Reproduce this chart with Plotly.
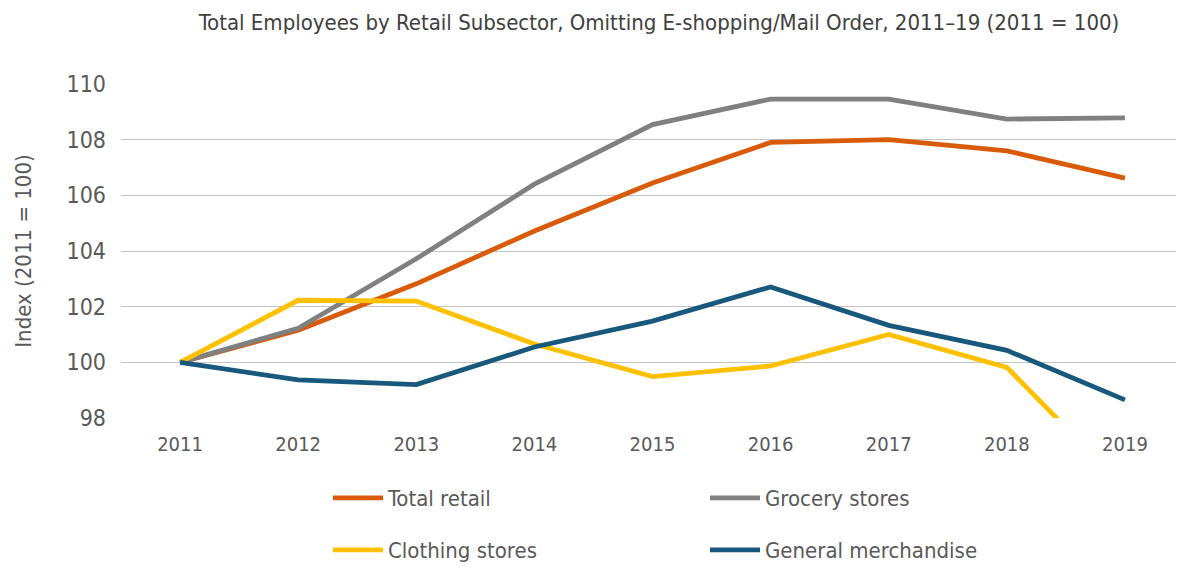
import plotly.graph_objects as go

years = ["2011", "2012", "2013", "2014", "2015", "2016", "2017", "2018", "2019"]
total_retail = [100, 101.15, 102.82, 104.72, 106.44, 107.9, 108.0, 107.6, 106.62]
grocery = [100, 101.22, 103.72, 106.4, 108.54, 109.46, 109.46, 108.74, 108.78]
clothing = [100, 102.23, 102.2, 100.66, 99.49, 99.87, 101.0, 99.82, 95.5]
general = [100, 99.37, 99.2, 100.55, 101.48, 102.71, 101.33, 100.43, 98.65]

series = [
    ("Total retail", total_retail, "#D95B0A", "legend"),
    ("Grocery stores", grocery, "#808080", "legend2"),
    ("Clothing stores", clothing, "#FFC000", "legend3"),
    ("General merchandise", general, "#17587C", "legend4"),
]

FONT = "DejaVu Sans Condensed, Liberation Sans Narrow, sans-serif"
TXT = "#595959"

# The page body has an 8px margin, so the figure is drawn 8px in from the corner.
OFF = 8
W, H = 1184 - OFF, 567 - OFF
L, R, T, B = 121 - OFF, 0, 84 - OFF, 567 - 418
PW = W - L - R

def px(page_x):
    return (page_x - OFF - L) / PW

def cy(page_y):
    return 1 - (page_y - OFF) / H

fig = go.Figure()
for name, vals, color, lg in series:
    fig.add_trace(go.Scatter(
        x=years, y=vals, name=name, mode="lines",
        line=dict(color=color, width=4.8),
        legend=lg,
    ))

def leg(x, y):
    return dict(x=x, y=y, xref="paper", yref="container", xanchor="left", yanchor="middle",
                font=dict(family=FONT, size=22, color=TXT), bgcolor="rgba(0,0,0,0)",
                itemwidth=50)

fig.update_layout(
    width=W, height=H,
    margin=dict(l=L, r=R, t=T, b=B),
    showlegend=True,
    paper_bgcolor="white", plot_bgcolor="white",
    font=dict(family=FONT, size=21, color=TXT),
    title=dict(text="Total Employees by Retail Subsector, Omitting E-shopping/Mail Order, 2011\u201319 (2011 = 100)",
               x=px(659), xref="paper", xanchor="center", y=cy(22), yanchor="middle",
               font=dict(family=FONT, size=22, color="#404040")),
    xaxis=dict(type="category", range=[-0.5, 8.5], showgrid=False, showline=False,
               ticks="", tickfont=dict(size=20, color=TXT), ticklabelstandoff=12),
    yaxis=dict(range=[98, 110], dtick=2, tick0=98, showgrid=True, gridcolor="#C4C4C4",
               gridwidth=1.3, zeroline=False, showline=False, ticks="",
               tickfont=dict(size=23, color=TXT), ticklabelstandoff=14,
               title=dict(text="Index (2011 = 100)", font=dict(size=22, color=TXT), standoff=28)),
    legend=leg(px(328), cy(498)),
    legend2=leg(px(705), cy(498)),
    legend3=leg(px(328), cy(550)),
    legend4=leg(px(705), cy(550)),
)

fig.write_html("out.html")
